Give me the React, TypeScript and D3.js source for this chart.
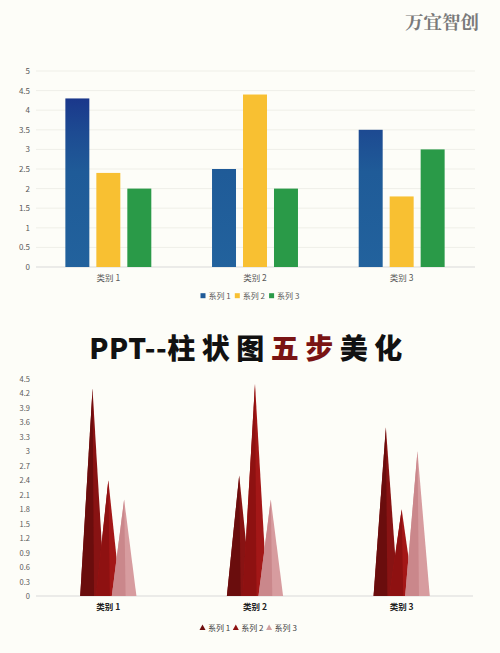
import { useEffect, useRef } from "react";
import * as d3 from "d3";

const categories = [ "类别 1", "类别 2", "类别 3" ];
const seriesNames = [ "系列 1", "系列 2", "系列 3" ];
const series1 = [ 4.3, 2.5, 3.5 ];
const series2 = [ 2.4, 4.4, 1.8 ];
const series3 = [ 2.0, 2.0, 3.0 ];
const topTicks = [ 0, 0.5, 1, 1.5, 2, 2.5, 3, 3.5, 4, 4.5, 5 ];
const bottomTicks = [ 0, 0.3, 0.6, 0.9, 1.2, 1.5, 1.8, 2.1, 2.4, 2.7, 3, 3.3, 3.6, 3.9, 4.2, 4.5 ];

const W = 500;
const H = 653;
const BG = "#fdfdf8";
const FONT = "'Noto Sans CJK SC', 'Noto Sans', sans-serif";

const barColors = [ "url(#blueGrad)", "#f8c032", "#2a9a48" ];
const pyramidLeft = [ "#6a0d0d", "#8e1111", "#ca878b" ];
const pyramidRight = [ "#881313", "#a31717", "#d79c9f" ];
const legendTri = [ "#6e0e0e", "#8e1212", "#d2a0a0" ];

export default function App ()
{
    const svgRef = useRef<SVGSVGElement>( null );

    useEffect( () =>
    {
        if ( !svgRef.current ) return;
        document.body.style.margin = "0";
        const svg = d3.select( svgRef.current );
        svg.selectAll( "*" ).remove();

        const values = [ series1, series2, series3 ];

        svg.append( "rect" ).attr( "width", W ).attr( "height", H ).attr( "fill", BG );

        // gradient for blue series
        const defs = svg.append( "defs" );
        const yTop = d3.scaleLinear().domain( [ 0, 5 ] ).range( [ 267, 71 ] );
        const grad = defs.append( "linearGradient" ).attr( "id", "blueGrad" )
            .attr( "gradientUnits", "userSpaceOnUse" )
            .attr( "x1", 0 ).attr( "x2", 0 ).attr( "y1", yTop( 4.4 ) ).attr( "y2", yTop( 0 ) );
        grad.append( "stop" ).attr( "offset", "0%" ).attr( "stop-color", "#1a358a" );
        grad.append( "stop" ).attr( "offset", "22%" ).attr( "stop-color", "#1d4b92" );
        grad.append( "stop" ).attr( "offset", "45%" ).attr( "stop-color", "#1f5b98" );
        grad.append( "stop" ).attr( "offset", "100%" ).attr( "stop-color", "#22629d" );

        // watermark
        svg.append( "text" ).attr( "x", 479 ).attr( "y", 29 ).attr( "text-anchor", "end" )
            .attr( "fill", "#7a7a7a" ).style( "font-size", "18.5px" ).style( "font-weight", "700" )
            .style( "font-family", "'Noto Serif CJK SC', " + FONT ).text( "万宜智创" );

        // ---------- top chart ----------
        const x0 = d3.scaleBand<string>().domain( categories ).range( [ 35, 475 ] ).padding( 0 );
        const x1 = d3.scaleBand<string>().domain( seriesNames ).range( [ 0, x0.bandwidth() ] )
            .paddingInner( 0.226 ).paddingOuter( 0.98 );

        const top = svg.append( "g" );
        top.selectAll( "line.grid" ).data( topTicks ).join( "line" )
            .attr( "x1", 36 ).attr( "x2", 475 )
            .attr( "y1", ( d ) => yTop( d ) ).attr( "y2", ( d ) => yTop( d ) )
            .attr( "stroke", ( d ) => d === 0 ? "#d9d9d9" : "#efefe8" ).attr( "stroke-width", 1 );
        top.selectAll( "text.tick" ).data( topTicks ).join( "text" )
            .attr( "x", 30 ).attr( "y", ( d ) => yTop( d ) + 3 ).attr( "text-anchor", "end" )
            .attr( "fill", "#595959" ).style( "font-size", "8px" ).style( "font-family", FONT )
            .text( ( d ) => String( d ) );

        seriesNames.forEach( ( s, si ) =>
        {
            top.append( "g" ).selectAll( "rect" ).data( values[ si ] ).join( "rect" )
                .attr( "x", ( _, i ) => x0( categories[ i ] )! + x1( s )! )
                .attr( "width", x1.bandwidth() )
                .attr( "y", ( d ) => yTop( d ) )
                .attr( "height", ( d ) => yTop( 0 ) - yTop( d ) )
                .attr( "fill", barColors[ si ] );
        } );

        top.selectAll( "text.cat" ).data( categories ).join( "text" )
            .attr( "x", ( d ) => x0( d )! + x0.bandwidth() / 2 ).attr( "y", 281 )
            .attr( "text-anchor", "middle" ).attr( "fill", "#595959" )
            .style( "font-size", "8.5px" ).style( "font-family", FONT ).text( ( d ) => d );

        const legTop = top.append( "g" );
        seriesNames.forEach( ( s, i ) =>
        {
            const lx = 200.5 + i * 34.3;
            legTop.append( "rect" ).attr( "x", lx ).attr( "y", 293.2 ).attr( "width", 5 ).attr( "height", 5 )
                .attr( "fill", [ "#1f5a98", "#f8c032", "#2a9a48" ][ i ] );
            legTop.append( "text" ).attr( "x", lx + 8 ).attr( "y", 298.8 ).attr( "fill", "#595959" )
                .style( "font-size", "8px" ).style( "font-family", FONT ).text( s );
        } );

        // ---------- title ----------
        const title = svg.append( "text" ).attr( "x", 249 ).attr( "y", 359 ).attr( "text-anchor", "middle" )
            .style( "font-size", "28px" ).style( "font-weight", "900" ).style( "font-family", FONT );
        title.append( "tspan" ).attr( "fill", "#111" ).style( "letter-spacing", "0.5px" ).text( "PPT--" );
        title.append( "tspan" ).attr( "fill", "#111" ).style( "letter-spacing", "6.5px" ).text( "柱状图" );
        title.append( "tspan" ).attr( "fill", "#7a1414" ).style( "letter-spacing", "6.5px" ).text( "五步" );
        title.append( "tspan" ).attr( "fill", "#111" ).style( "letter-spacing", "6.5px" ).text( "美化" );

        // ---------- bottom chart ----------
        const yBot = d3.scaleLinear().domain( [ 0, 4.5 ] ).range( [ 596, 379 ] );
        const xp = d3.scalePoint<string>().domain( seriesNames )
            .range( [ x0.bandwidth() / 2 - 15.8, x0.bandwidth() / 2 + 15.8 ] );
        const half = 12.3;

        const bot = svg.append( "g" );
        bot.append( "line" ).attr( "x1", 36 ).attr( "x2", 473 )
            .attr( "y1", yBot( 0 ) ).attr( "y2", yBot( 0 ) ).attr( "stroke", "#d9d9d9" );
        bot.selectAll( "text.tick" ).data( bottomTicks ).join( "text" )
            .attr( "x", 30 ).attr( "y", ( d ) => yBot( d ) + 3 ).attr( "text-anchor", "end" )
            .attr( "fill", "#595959" ).style( "font-size", "7.5px" ).style( "font-family", FONT )
            .text( ( d ) => d3.format( "~g" )( +d.toFixed( 1 ) ) );

        seriesNames.forEach( ( s, si ) =>
        {
            const g = bot.append( "g" );
            values[ si ].forEach( ( v, i ) =>
            {
                const cx = x0( categories[ i ] )! + xp( s )!;
                const base = yBot( 0 );
                const peak = yBot( v );
                // whole pyramid in the light face colour, dark face laid over it
                g.append( "path" )
                    .attr( "d", `M${ cx - half },${ base }L${ cx },${ peak }L${ cx + half },${ base }Z` )
                    .attr( "fill", pyramidRight[ si ] );
                g.append( "path" )
                    .attr( "d", `M${ cx - half },${ base }L${ cx },${ peak }L${ cx + 1.5 },${ base }Z` )
                    .attr( "fill", pyramidLeft[ si ] );
            } );
        } );

        bot.selectAll( "text.cat" ).data( categories ).join( "text" )
            .attr( "x", ( d ) => x0( d )! + x0.bandwidth() / 2 ).attr( "y", 610 )
            .attr( "text-anchor", "middle" ).attr( "fill", "#222" ).style( "font-weight", "700" )
            .style( "font-size", "8.5px" ).style( "font-family", FONT ).text( ( d ) => d );

        const legBot = bot.append( "g" );
        seriesNames.forEach( ( s, i ) =>
        {
            const lx = 202.5 + i * 33.3;
            legBot.append( "path" ).attr( "d", `M${ lx - 3 },${ 630 }L${ lx },${ 624.5 }L${ lx + 3 },${ 630 }Z` )
                .attr( "fill", legendTri[ i ] );
            legBot.append( "text" ).attr( "x", lx + 5.5 ).attr( "y", 631 ).attr( "fill", "#404040" )
                .style( "font-size", "8px" ).style( "font-family", FONT ).text( s );
        } );
    }, [] );

    return (
        <svg ref={ svgRef } width={ W } height={ H } style={ { display: "block" } } />
    );
}
